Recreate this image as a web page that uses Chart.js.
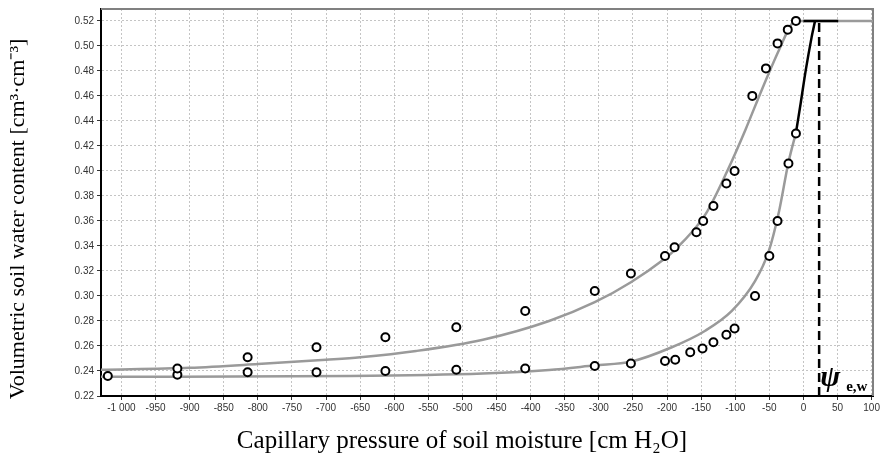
<!DOCTYPE html>
<html lang="en">
<head>
<meta charset="UTF-8">
<title>Soil water retention curves</title>
<script src="https://cdn.jsdelivr.net/npm/chart.js"></script>
<style>
    html, body {
        margin: 0;
        padding: 0;
        background: #ffffff;
    }
    .chart-box {
        position: relative;
        width: 882px;
        height: 461px;
    }
</style>
</head>
<body>

<div class="chart-box">
    <canvas id="retentionChart"></canvas>
</div>

<script>
    // tick labels
    const xTicks = [-1000, -950, -900, -850, -800, -750, -700, -650, -600, -550, -500, -450, -400,
                    -350, -300, -250, -200, -150, -100, -50, 0, 50, 100];
    const yTicks = [0.22, 0.24, 0.26, 0.28, 0.30, 0.32, 0.34, 0.36, 0.38, 0.40, 0.42, 0.44, 0.46, 0.48, 0.50, 0.52];

    // measured points, drying branch (upper)
    const upperX = [-918, -815, -714, -613, -509, -408, -306, -253, -203, -189, -157, -147, -132, -113, -101, -75, -55, -38, -23, -11];
    const upperY = [0.242, 0.251, 0.259, 0.267, 0.275, 0.288, 0.304, 0.318, 0.332, 0.339, 0.351, 0.360, 0.372, 0.390, 0.400, 0.460, 0.482, 0.502, 0.513, 0.520];

    // measured points, wetting branch (lower)
    const lowerX = [-1020, -918, -815, -714, -613, -509, -408, -306, -253, -203, -188, -166, -148, -132, -113, -101, -71, -50, -38, -22, -11];
    const lowerY = [0.236, 0.237, 0.239, 0.239, 0.240, 0.241, 0.242, 0.244, 0.246, 0.248, 0.249, 0.255, 0.258, 0.263, 0.269, 0.274, 0.300, 0.332, 0.360, 0.406, 0.430];

    // fitted curves
    const upperFitX = [-1030, -900, -800, -700, -650, -568, -470, -373, -306, -253, -203, -192, -144, -110, -85, -61, -36, -17, -7, 102];
    const upperFitY = [0.241, 0.2425, 0.2455, 0.249, 0.251, 0.256, 0.265, 0.280, 0.295, 0.311, 0.330, 0.335, 0.365, 0.402, 0.433, 0.465, 0.4965, 0.5176, 0.520, 0.520];
    const lowerFitX = [-1030, -665, -470, -373, -306, -253, -193, -144, -105, -71, -51, -36, -22, -11];
    const lowerFitY = [0.2353, 0.236, 0.238, 0.2408, 0.2445, 0.2475, 0.259, 0.2722, 0.288, 0.3118, 0.3356, 0.3672, 0.4068, 0.4305];

    // air-entry branch and psi e,w marker
    const entryX = [-11, -4, 3.4, 12, 17];
    const entryY = [0.4305, 0.4543, 0.4806, 0.507, 0.520];
    const plateauX = [0, 51];
    const plateauY = [0.520, 0.520];
    const psiX = [23, 23];
    const psiY = [0.22, 0.52];

    const xTitle = 'Capillary pressure of soil moisture [cm H\u2082O]';
    const yTitle = 'Volumetric soil water content [cm\u00b3\u00b7cm\u207b\u00b3]';

    const toPts = (xs, ys) => xs.map((x, i) => ({ x: x, y: ys[i] }));

    const extraDrawing = {
        id: 'extraDrawing',
        beforeDatasetsDraw(chart) {
            const { ctx, chartArea: a } = chart;
            ctx.save();
            ctx.strokeStyle = '#808080';
            ctx.lineWidth = 2;
            ctx.beginPath();
            ctx.moveTo(a.left, a.top);
            ctx.lineTo(a.right, a.top);
            ctx.lineTo(a.right, a.bottom);
            ctx.stroke();
            ctx.restore();
        },
        afterDraw(chart) {
            const { ctx } = chart;
            ctx.save();
            ctx.fillStyle = '#000';
            ctx.textAlign = 'center';
            ctx.textBaseline = 'alphabetic';
            ctx.font = '25px "Liberation Serif"';
            ctx.fillText(xTitle, 462, 448);

            ctx.save();
            ctx.translate(24, 219);
            ctx.rotate(-Math.PI / 2);
            ctx.font = '22px "Liberation Serif"';
            ctx.fillText(yTitle, 0, 0);
            ctx.restore();

            const px = chart.scales.x.getPixelForValue(psiX[0]);
            ctx.textAlign = 'left';
            ctx.font = 'bold italic 30px "Liberation Serif"';
            ctx.fillText('\u03c8', px + 1, 386);
            ctx.font = 'bold 15px "Liberation Serif"';
            ctx.fillText('e,w', px + 27, 391);
            ctx.restore();
        }
    };

    const ctx = document.getElementById('retentionChart').getContext('2d');
    new Chart(ctx, {
        type: 'scatter',
        data: {
            datasets: [
                {
                    label: 'measured (upper)',
                    data: toPts(upperX, upperY),
                    pointRadius: 4,
                    pointBorderWidth: 2,
                    borderColor: '#000',
                    backgroundColor: '#fff',
                    order: 0
                },
                {
                    label: 'measured (lower)',
                    data: toPts(lowerX, lowerY),
                    pointRadius: 4,
                    pointBorderWidth: 2,
                    borderColor: '#000',
                    backgroundColor: '#fff',
                    order: 0
                },
                {
                    label: 'entry branch',
                    data: toPts(entryX, entryY),
                    showLine: true,
                    pointRadius: 0,
                    borderColor: '#000',
                    borderWidth: 2.5,
                    tension: 0.3,
                    order: 1
                },
                {
                    label: 'plateau',
                    data: toPts(plateauX, plateauY),
                    showLine: true,
                    pointRadius: 0,
                    borderColor: '#000',
                    borderWidth: 2.5,
                    order: 1
                },
                {
                    label: 'psi e,w',
                    data: toPts(psiX, psiY),
                    showLine: true,
                    pointRadius: 0,
                    borderColor: '#000',
                    borderWidth: 2.5,
                    borderDash: [9, 5],
                    order: 1
                },
                {
                    label: 'fit (upper)',
                    data: toPts(upperFitX, upperFitY),
                    showLine: true,
                    pointRadius: 0,
                    borderColor: '#9a9a9a',
                    borderWidth: 2.5,
                    cubicInterpolationMode: 'monotone',
                    order: 2
                },
                {
                    label: 'fit (lower)',
                    data: toPts(lowerFitX, lowerFitY),
                    showLine: true,
                    pointRadius: 0,
                    borderColor: '#9a9a9a',
                    borderWidth: 2.5,
                    cubicInterpolationMode: 'monotone',
                    order: 2
                }
            ]
        },
        options: {
            responsive: true,
            maintainAspectRatio: false,
            animation: false,
            layout: { padding: { left: 0, top: 5, right: 7, bottom: 0 } },
            plugins: {
                legend: { display: false },
                tooltip: { enabled: false }
            },
            scales: {
                x: {
                    type: 'linear',
                    min: -1030,
                    max: 102,
                    afterBuildTicks: s => { s.ticks = xTicks.map(v => ({ value: v })); },
                    afterFit: s => { s.height = 65; },
                    ticks: {
                        color: '#333',
                        font: { family: 'Liberation Sans', size: 10 },
                        padding: 2,
                        maxRotation: 0,
                        autoSkip: false,
                        callback: v => String(v).replace(/\B(?=(\d{3})+(?!\d))/g, ' ')
                    },
                    grid: { color: '#c4c4c4', lineWidth: 1, tickLength: 4, tickColor: '#333' },
                    border: { color: '#000', width: 2, dash: [2, 2] }
                },
                y: {
                    type: 'linear',
                    min: 0.22,
                    max: 0.5295,
                    afterBuildTicks: s => { s.ticks = yTicks.map(v => ({ value: v })); },
                    afterFit: s => { s.width = 101; },
                    ticks: {
                        color: '#333',
                        font: { family: 'Liberation Sans', size: 10 },
                        padding: 3,
                        callback: v => v.toFixed(2)
                    },
                    grid: { color: '#c4c4c4', lineWidth: 1, tickLength: 4, tickColor: '#333' },
                    border: { color: '#000', width: 2, dash: [2, 2] }
                }
            }
        },
        plugins: [extraDrawing]
    });
</script>

</body>
</html>
